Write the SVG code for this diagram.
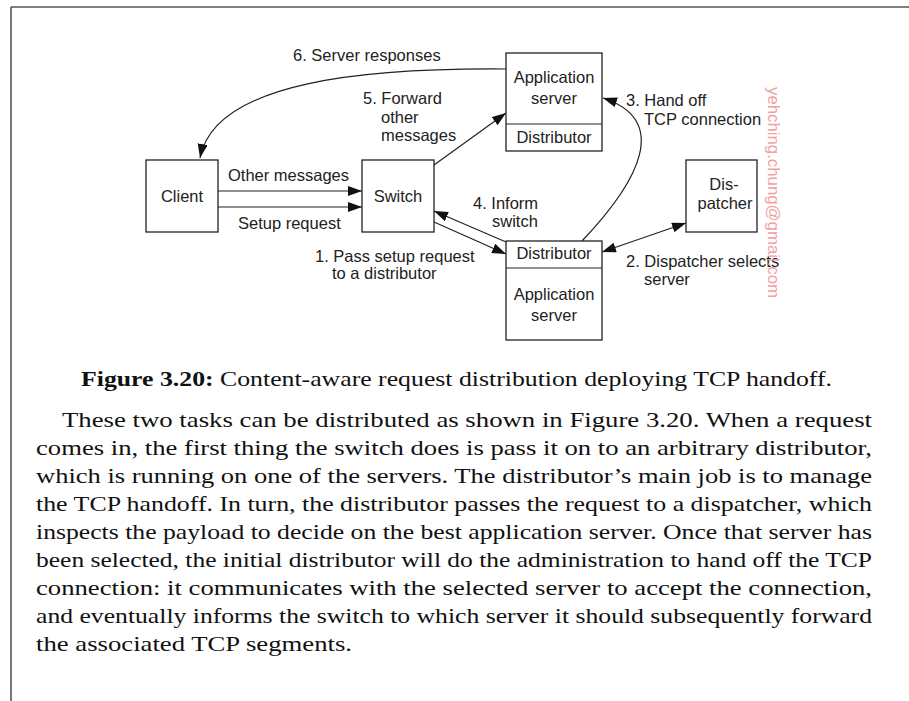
<svg xmlns="http://www.w3.org/2000/svg" width="909" height="701" viewBox="0 0 909 701">
<style>
.box{fill:#fff;stroke:#222;stroke-width:1.3}
.ln{fill:none;stroke:#222;stroke-width:1.2}
.t{font-family:"Liberation Sans",Arial,sans-serif;font-size:16.5px;fill:#222}
.c{text-anchor:middle}
.body{font-family:"Liberation Serif","DejaVu Serif",serif;font-size:21.5px;fill:#111}
.wm{font-family:"Liberation Sans",Arial,sans-serif;font-size:16.8px;fill:#f3a0a0}
</style>
<defs>
<marker id="ah" markerUnits="userSpaceOnUse" markerWidth="15" markerHeight="11" refX="14" refY="5" orient="auto-start-reverse">
<path d="M0,0 L14,5 L0,10 z" fill="#111"/>
</marker>
</defs>
<rect width="909" height="701" fill="#fff"/>
<g id="frame" fill="none" stroke="#555" stroke-width="1.6">
<path d="M11,7 H909 M11,7 V701"/>
</g>
<g id="connectors">
<line class="ln" x1="218" y1="191" x2="362" y2="191" marker-end="url(#ah)"/>
<line class="ln" x1="218" y1="207" x2="362" y2="207" marker-end="url(#ah)"/>
<line class="ln" x1="434" y1="165" x2="506" y2="113" marker-end="url(#ah)"/>
<line class="ln" x1="506" y1="242" x2="434" y2="211" marker-end="url(#ah)"/>
<line class="ln" x1="434" y1="222" x2="506" y2="254" marker-end="url(#ah)"/>
<line class="ln" x1="602" y1="252" x2="686" y2="223" marker-start="url(#ah)" marker-end="url(#ah)"/>
<path class="ln" d="M582,241 C640,180 670,120 603,98" marker-end="url(#ah)"/>
<path class="ln" d="M506,69 C370,68 215,80 200,158" marker-end="url(#ah)"/>
</g>
<g id="client">
<rect class="box" x="146" y="160" width="72" height="72"/>
<text class="t c" x="182" y="202">Client</text>
</g>
<g id="switch">
<rect class="box" x="362" y="160" width="72" height="72"/>
<text class="t c" x="398" y="202">Switch</text>
</g>
<g id="appserver-top">
<rect class="box" x="506" y="53" width="96" height="98"/>
<line class="ln" x1="506" y1="124" x2="602" y2="124"/>
<text class="t c" x="554" y="83">Application</text>
<text class="t c" x="554" y="104">server</text>
<text class="t c" x="554" y="143">Distributor</text>
</g>
<g id="dispatcher">
<rect class="box" x="686" y="160" width="71" height="72"/>
<text class="t c" x="724" y="190">Dis-</text>
<text class="t c" x="725" y="209">patcher</text>
</g>
<g id="appserver-bottom">
<rect class="box" x="506" y="241" width="96" height="99"/>
<line class="ln" x1="506" y1="268" x2="602" y2="268"/>
<text class="t c" x="554" y="259">Distributor</text>
<text class="t c" x="554" y="300">Application</text>
<text class="t c" x="554" y="321">server</text>
</g>
<g id="labels">
<text class="t" x="293" y="61">6. Server responses</text>
<text class="t" x="363" y="104">5. Forward</text>
<text class="t" x="381" y="123">other</text>
<text class="t" x="381" y="141">messages</text>
<text class="t" x="626" y="106">3. Hand off</text>
<text class="t" x="644" y="125">TCP connection</text>
<text class="t" x="228" y="181">Other messages</text>
<text class="t" x="238" y="229">Setup request</text>
<text class="t" x="473" y="209">4. Inform</text>
<text class="t" x="492" y="227">switch</text>
<text class="t" x="315" y="262">1. Pass setup request</text>
<text class="t" x="332" y="279">to a distributor</text>
<text class="t" x="626" y="267">2. Dispatcher selects</text>
<text class="t" x="644" y="285">server</text>
</g>
<text class="wm" transform="translate(768,87) rotate(90)">yehching.chung@gmail.com</text>
<g id="caption">
<text class="body" x="81" y="386" textLength="751" lengthAdjust="spacingAndGlyphs"><tspan font-weight="bold">Figure 3.20:</tspan> Content-aware request distribution deploying TCP handoff.</text>
</g>
<g id="paragraph">
<text class="body" x="62" y="427" textLength="810" lengthAdjust="spacingAndGlyphs">These two tasks can be distributed as shown in Figure 3.20. When a request</text>
<text class="body" x="36" y="455" textLength="836" lengthAdjust="spacingAndGlyphs">comes in, the first thing the switch does is pass it on to an arbitrary distributor,</text>
<text class="body" x="36" y="483" textLength="836" lengthAdjust="spacingAndGlyphs">which is running on one of the servers. The distributor’s main job is to manage</text>
<text class="body" x="36" y="511" textLength="836" lengthAdjust="spacingAndGlyphs">the TCP handoff. In turn, the distributor passes the request to a dispatcher, which</text>
<text class="body" x="36" y="539" textLength="836" lengthAdjust="spacingAndGlyphs">inspects the payload to decide on the best application server. Once that server has</text>
<text class="body" x="36" y="567" textLength="836" lengthAdjust="spacingAndGlyphs">been selected, the initial distributor will do the administration to hand off the TCP</text>
<text class="body" x="36" y="595" textLength="836" lengthAdjust="spacingAndGlyphs">connection: it communicates with the selected server to accept the connection,</text>
<text class="body" x="36" y="623" textLength="836" lengthAdjust="spacingAndGlyphs">and eventually informs the switch to which server it should subsequently forward</text>
<text class="body" x="36" y="651" textLength="316" lengthAdjust="spacingAndGlyphs">the associated TCP segments.</text>
</g>
</svg>
